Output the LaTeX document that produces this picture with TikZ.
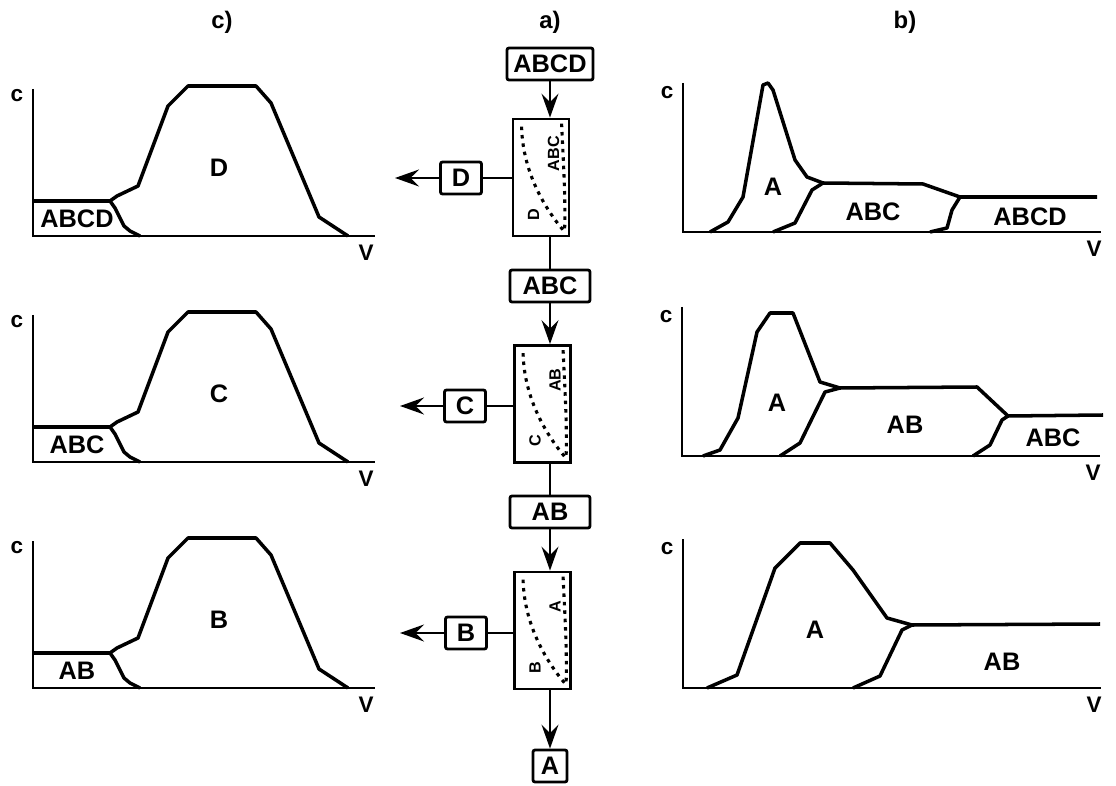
\documentclass[tikz,border=0pt]{standalone}
\usepackage{fontspec}
\setmainfont{Liberation Sans}
\usetikzlibrary{arrows.meta}

\begin{document}
\begin{tikzpicture}[x=0.025cm, y=-0.025cm,
  curve/.style={line width=2.5pt, line join=round},
  axis/.style={line width=2.1pt},
  tag/.style={draw, line width=2pt, rounded corners=1.5pt, minimum height=0.8cm, inner sep=0pt, font=\fontsize{18}{20}\selectfont\bfseries},
  column/.style={draw, line width=2pt, minimum width=1.4cm, minimum height=2.925cm, inner sep=0pt},
  flow/.style={line width=2pt, -{Stealth[length=17pt, width=12pt, inset=6pt]}},
  link/.style={line width=2pt},
  dots/.style={line width=2.2pt, dash pattern=on 2.5pt off 3.5pt},
  lbl/.style={font=\fontsize{18}{20}\selectfont\bfseries},
  small/.style={font=\fontsize{11.5}{13}\selectfont\bfseries, rotate=90},
  axlbl/.style={font=\fontsize{16}{18}\selectfont\bfseries},
  title/.style={font=\fontsize{17}{19}\selectfont\bfseries}]
  \useasboundingbox (0,0) rectangle (1116,786);

  \node[title] (tc) at (222,22) {c)};
  \node[title] (ta) at (550,22) {a)};
  \node[title] (tb) at (905,22) {b)};

  \node[tag, minimum width=2.15cm] (feedABCD) at (550,64) {ABCD};
  \node[column] (col1) at (541,177.5) {};
  \node[tag, minimum width=2cm] (feedABC) at (550,286) {ABC};
  \node[column] (col2) at (542.5,404) {};
  \node[tag, minimum width=2cm] (feedAB) at (550,512) {AB};
  \node[column] (col3) at (542.5,630.5) {};
  \node[tag, minimum width=0.85cm] (outA) at (550,766) {A};
  \node[tag, minimum width=1.025cm] (outD) at (461,178) {D};
  \node[tag, minimum width=1.025cm] (outC) at (465,406) {C};
  \node[tag, minimum width=1.025cm] (outB) at (466,633) {B};
  \coordinate (tipD) at (395,178);
  \coordinate (tipC) at (400,406);
  \coordinate (tipB) at (400,633);

  \draw[flow] (feedABCD) -- (feedABCD |- col1.north);
  \draw[link] (feedABC |- col1.south) -- (feedABC);
  \draw[flow] (feedABC) -- (feedABC |- col2.north);
  \draw[link] (feedAB |- col2.south) -- (feedAB);
  \draw[flow] (feedAB) -- (feedAB |- col3.north);
  \draw[flow] (outA |- col3.south) -- (outA);
  \draw[link] (outD.east -| col1.west) -- (outD);
  \draw[flow] (outD) -- (tipD);
  \draw[link] (outC.east -| col2.west) -- (outC);
  \draw[flow] (outC) -- (tipC);
  \draw[link] (outB.east -| col3.west) -- (outB);
  \draw[flow] (outB) -- (tipB);

  \foreach \i/\lo/\hi in {1/D/ABC, 2/C/AB, 3/B/A} {
    \begin{scope}[shift={(col\i.north west)}]
      \draw[dots] (10,9) .. controls (11,56) and (35,93) .. (52,113);
      \draw[dots] (50,6) .. controls (52,50) and (54,80) .. (53,113);
      \node[small] (lo\i) at (22,97) {\lo};
      \node[small] (hi\i) at (42,36) {\hi};
    \end{scope}
  }

  % c) collected fractions
  \foreach \oy/\peak/\base in {236/D/ABCD, 462/C/ABC, 688/B/AB} {
    \begin{scope}[shift={(33,\oy)}, yscale=-1]
      \draw[axis] (0,147) -- (0,0) -- (342,0);
      \draw[curve] (0,35) -- (77,35) -- (82,28) -- (91,10) -- (97,5) -- (107,0);
      \draw[curve] (77,35) -- (84,40) -- (105,50) -- (135,130) -- (155,150) -- (223,150) -- (238,133) -- (286,19) -- (315,0);
      \node[lbl] (base\peak) at (44,17) {\base};
      \node[lbl] (peak\peak) at (186,68) {\peak};
      \node[axlbl] (c\peak) at (-16,140) {c};
      \node[axlbl] (v\peak) at (333,-17) {V};
    \end{scope}
  }

  % b) elution profiles
  \begin{scope}[shift={(683,232)}, yscale=-1]
    \draw[axis] (0,149) -- (0,0) -- (418,0);
    \draw[curve] (27,0) -- (45,10) -- (60,35) -- (80,147) -- (85,149) -- (90,142) -- (112,72) -- (124,55) -- (140,49) -- (240,48) -- (277,35) -- (414,35);
    \draw[curve] (90,0) -- (112,9) -- (129,42) -- (140,49);
    \draw[curve] (247,0) -- (264,4) -- (269,22) -- (277,35);
    \node[lbl] (r1a) at (90,45) {A};
    \node[lbl] (r1abc) at (190,20) {ABC};
    \node[lbl] (r1abcd) at (347,15) {ABCD};
    \node[axlbl] (r1c) at (-16,139) {c};
    \node[axlbl] (r1v) at (411,-17) {V};
  \end{scope}

  \begin{scope}[shift={(682,456)}, yscale=-1]
    \draw[axis] (0,149) -- (0,0) -- (418,0);
    \draw[curve] (21,0) -- (38,6) -- (56,38) -- (75,124) -- (88,143) -- (111,143) -- (138,74) -- (158,68) -- (295,69) -- (326,40) -- (421,41);
    \draw[curve] (98,0) -- (118,13) -- (143,64) -- (158,68);
    \draw[curve] (291,0) -- (308,11) -- (320,36) -- (326,40);
    \node[lbl] (r2a) at (95,53) {A};
    \node[lbl] (r2ab) at (223,31) {AB};
    \node[lbl] (r2abc) at (371,18) {ABC};
    \node[axlbl] (r2c) at (-16,139) {c};
    \node[axlbl] (r2v) at (411,-17) {V};
  \end{scope}

  \begin{scope}[shift={(683,688)}, yscale=-1]
    \draw[axis] (0,149) -- (0,0) -- (418,0);
    \draw[curve] (24,0) -- (54,13) -- (92,120) -- (117,145) -- (147,145) -- (170,118) -- (204,70) -- (229,63) -- (417,64);
    \draw[curve] (170,0) -- (197,12) -- (219,58) -- (229,63);
    \node[lbl] (r3a) at (132,58) {A};
    \node[lbl] (r3ab) at (319,26) {AB};
    \node[axlbl] (r3c) at (-16,139) {c};
    \node[axlbl] (r3v) at (411,-17) {V};
  \end{scope}
\end{tikzpicture}
\end{document}
